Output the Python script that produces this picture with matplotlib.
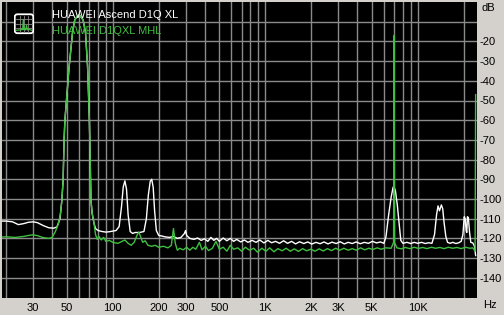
import matplotlib
matplotlib.use('Agg')
import matplotlib.pyplot as plt
from matplotlib.patches import FancyBboxPatch

# series 1: HUAWEI Ascend D1Q XL (white)
white_freq = [18.75, 20, 22, 24, 26, 28, 30, 32, 35, 38, 41, 43, 45, 46.3, 47.2, 47.9, 48.5,
              51.7, 54.4, 56.3, 60.1, 63.8, 66.2, 68.3, 70.2, 70.8, 71.4, 71.9, 73.2, 75.3,
              77, 80, 85, 90, 95, 100, 105, 110, 114, 117, 120, 123, 126, 130, 135, 140, 150,
              160, 166, 171, 176, 180, 184, 188, 193, 200, 210, 220, 235, 250, 265, 280, 295,
              300, 305, 320, 340, 360, 380, 400, 420, 440, 460, 480, 500, 530, 560, 590, 620,
              650, 690, 730, 770, 820, 870, 920, 980, 1040, 1100, 1170, 1240, 1320, 1400,
              1490, 1580, 1680, 1790, 1900, 2020, 2150, 2290, 2430, 2580, 2740, 2920, 3100,
              3300, 3500, 3720, 3950, 4200, 4470, 4750, 5050, 5370, 5700, 6000, 6200, 6450,
              6700, 6900, 7000, 7150, 7350, 7550, 7750, 8000, 8500, 9000, 9500, 10000, 10600,
              11200, 11800, 12400, 12900, 13300, 13600, 13900, 14300, 14600, 14900, 15300,
              15700, 16300, 17000, 17800, 18600, 19300, 19800, 20200, 20500, 20800, 21000,
              21200, 21500, 21900, 22300, 23000, 23600, 24000]
white_db = [-111.2, -111.2, -111.6, -113.0, -112.5, -111.8, -111.6, -112.0, -113.5, -114.6,
            -114.8, -114.2, -110.0, -100.7, -90.5, -70.1, -59.9, -32.8, -15.6, -9.0, -6.4,
            -9.0, -15.6, -32.8, -59.9, -75.0, -90.5, -100.7, -107.3, -112.4, -115.0, -116.0,
            -116.5, -116.8, -116.6, -116.3, -116.0, -114.0, -104.0, -94.0, -90.8, -95.0,
            -108.0, -116.5, -117.5, -117.0, -117.0, -116.5, -110.0, -98.0, -91.0, -90.0,
            -94.0, -106.0, -116.0, -118.5, -118.8, -119.2, -119.5, -119.0, -120.0, -119.5,
            -117.5, -116.0, -118.5, -120.0, -120.5, -119.8, -121.0, -120.2, -121.5, -119.5,
            -121.0, -120.0, -121.5, -119.8, -121.2, -120.0, -121.5, -120.5, -121.8, -120.8,
            -122.0, -121.0, -122.0, -120.8, -122.3, -121.0, -122.2, -121.5, -122.5, -121.2,
            -122.5, -121.5, -122.8, -121.7, -122.6, -121.8, -122.9, -122.0, -122.7, -121.8,
            -122.8, -121.9, -122.6, -121.7, -122.8, -122.0, -122.6, -121.8, -122.7, -122.0,
            -122.5, -121.5, -122.3, -121.8, -122.5, -119.0, -108.0, -99.0, -94.0, -93.9,
            -96.0, -103.0, -112.0, -121.0, -122.5, -122.0, -122.6, -122.0, -122.5, -122.0,
            -122.6, -122.2, -122.5, -118.0, -108.0, -103.5, -106.0, -103.0, -105.0, -112.0,
            -119.0, -122.0, -122.5, -122.0, -122.6, -122.2, -121.5, -118.0, -109.0, -110.0,
            -116.0, -117.0, -109.0, -109.5, -117.0, -122.0, -122.3, -124.0, -128.7]

# series 2: HUAWEI D1QXL MHL (green)
green_freq = [18.75, 20, 23, 26, 28, 30, 32, 35, 38, 40, 42, 44, 45.4, 46.3, 47.2, 47.9,
              48.5, 51.7, 54.4, 56.3, 60.1, 63.8, 66.2, 68.3, 70.2, 70.8, 71.4, 71.9, 73.2,
              75.3, 77, 79, 81, 84, 87, 90, 95, 100, 108, 115, 120, 126, 132, 138, 144, 148,
              152, 157, 163, 170, 180, 190, 200, 215, 230, 242, 250, 257, 265, 275, 290, 305,
              320, 335, 350, 370, 385, 405, 425, 450, 475, 500, 530, 560, 590, 620, 660, 700,
              740, 790, 840, 890, 950, 1010, 1070, 1140, 1210, 1290, 1370, 1460, 1550, 1650,
              1760, 1870, 1990, 2120, 2260, 2400, 2560, 2720, 2900, 3080, 3280, 3500, 3720,
              3960, 4220, 4490, 4780, 5090, 5420, 5770, 6150, 6700, 6950, 7000, 7050, 7300,
              7800, 8300, 8900, 9500, 10100, 10800, 11500, 12300, 13100, 14000, 14900, 15900,
              17000, 18100, 19300, 20600, 22000, 23000, 23800, 24000]
green_db = [-119.3, -119.2, -119.5, -119.0, -118.5, -118.2, -118.6, -119.6, -120.0, -119.5,
            -116.5, -112.4, -107.3, -100.7, -90.5, -70.1, -59.9, -32.8, -15.6, -9.0, -6.4,
            -9.0, -15.6, -32.8, -59.9, -75.0, -90.5, -100.7, -107.3, -112.4, -118.0, -120.5,
            -119.0, -120.8, -119.5, -121.5, -121.0, -122.0, -122.5, -121.5, -120.8, -122.5,
            -123.5, -122.0, -118.5, -116.8, -119.0, -122.0, -121.2, -123.5, -124.0, -123.5,
            -124.5, -124.0, -124.8, -123.5, -115.0, -122.5, -126.0, -125.0, -125.8, -124.5,
            -126.0, -124.5, -125.5, -122.0, -125.8, -124.0, -126.2, -125.0, -121.5, -125.5,
            -124.5, -126.5, -123.5, -125.5, -124.8, -126.5, -124.5, -126.0, -125.0, -127.0,
            -125.0, -126.5, -124.8, -126.8, -125.2, -126.3, -125.0, -126.5, -125.3, -126.6,
            -125.2, -126.3, -125.5, -126.5, -125.3, -126.4, -125.2, -126.2, -125.0, -126.0,
            -125.0, -126.0, -125.2, -126.0, -124.8, -125.8, -125.0, -125.6, -124.8, -125.5,
            -124.8, -125.0, -122.0, -17.0, -122.0, -124.8, -125.3, -124.6, -125.2, -124.5,
            -125.1, -124.6, -125.2, -124.5, -125.0, -124.6, -125.2, -124.5, -125.0, -124.6,
            -125.2, -124.5, -125.0, -124.8, -126.5, -47.0]

series_names = ['HUAWEI Ascend D1Q XL', 'HUAWEI D1QXL MHL']
x_ticks = [20, 30, 40, 50, 60, 70, 80, 90, 100, 200, 300, 400, 500, 600, 700, 800, 900,
           1000, 2000, 3000, 4000, 5000, 6000, 7000, 8000, 9000, 10000, 20000]
x_tick_labels = ['', '30', '', '50', '', '', '', '', '100', '200', '300', '', '500', '', '',
                 '', '', '1K', '2K', '3K', '', '5K', '', '', '', '', '10K', '']
y_ticks = [-140, -130, -120, -110, -100, -90, -80, -70, -60, -50, -40, -30, -20, -10]
y_tick_labels = ['-140', '-130', '-120', '-110', '-100', '-90', '-80', '-70', '-60', '-50',
                 '-40', '-30', '-20', '']

# little legend glyph (spectrum icon)
icon_x = [0.05, 0.2, 0.3, 0.38, 0.42, 0.46, 0.5, 0.55, 0.6, 0.65, 0.7, 0.8, 0.95]
icon_y = [0.12, 0.14, 0.13, 0.2, 0.15, 0.75, 0.15, 0.22, 0.14, 0.4, 0.14, 0.18, 0.12]

BG = '#d4d1cc'
GREEN = '#3fbf3f'
plt.rcParams['font.family'] = ['Liberation Sans', 'DejaVu Sans']

fig = plt.figure(figsize=(5.04, 3.15), dpi=100, facecolor=BG)
W, H = 504, 315
ax = fig.add_axes([2 / W, (H - 297.5) / H, 475 / W, 295.5 / H])
ax.set_facecolor('black')

ax.plot(white_freq, white_db, color='white', lw=1.0, zorder=3)
ax.plot(green_freq, green_db, color=GREEN, lw=1.0, zorder=4)

ax.set_xscale('log')
ax.set_xlim(18.75, 24500)
ax.set_ylim(-150, 0)
ax.set_xticks(x_ticks)
ax.set_xticklabels(x_tick_labels)
ax.xaxis.set_minor_locator(matplotlib.ticker.NullLocator())
ax.set_yticks(y_ticks)
ax.set_yticklabels(y_tick_labels)
ax.yaxis.tick_right()
ax.tick_params(axis='both', length=0, labelsize=8, colors='black')
ax.tick_params(axis='x', pad=4)
ax.tick_params(axis='y', pad=2)
ax.grid(True, color='#8a8a8a', lw=1.0, zorder=1)
for s in ax.spines.values():
    s.set_visible(False)

fig.text(481 / W, 1 - 8 / H, 'dB', fontsize=8, ha='left', va='center')
fig.text(483 / W, 1 - 305 / H, 'Hz', fontsize=8, ha='left', va='center')

# legend
ax.text(52 / W, 1 - 15 / H, series_names[0], transform=fig.transFigure, color='white',
        fontsize=8, ha='left', va='center', zorder=6)
ax.text(52 / W, 1 - 31 / H, series_names[1], transform=fig.transFigure, color=GREEN,
        fontsize=8, ha='left', va='center', zorder=6)

icon = fig.add_axes([13.5 / W, 1 - 34.5 / H, 21 / W, 21.5 / H])
icon.set_xlim(0, 1)
icon.set_ylim(0, 1)
icon.axis('off')
icon.add_patch(FancyBboxPatch((0.06, 0.06), 0.88, 0.88, boxstyle='round,pad=0,rounding_size=0.12',
                              fc='black', ec='white', lw=1.3))
for g in [0.3, 0.5, 0.7]:
    icon.plot([g, g], [0.12, 0.88], color='#8a8a8a', lw=0.6)
    icon.plot([0.12, 0.88], [g, g], color='#8a8a8a', lw=0.6)
icon.plot([0.1 + 0.8 * v for v in icon_x], [0.1 + 0.8 * v for v in icon_y], color=GREEN, lw=0.9)

fig.savefig('out.png', dpi=100, facecolor=BG)
